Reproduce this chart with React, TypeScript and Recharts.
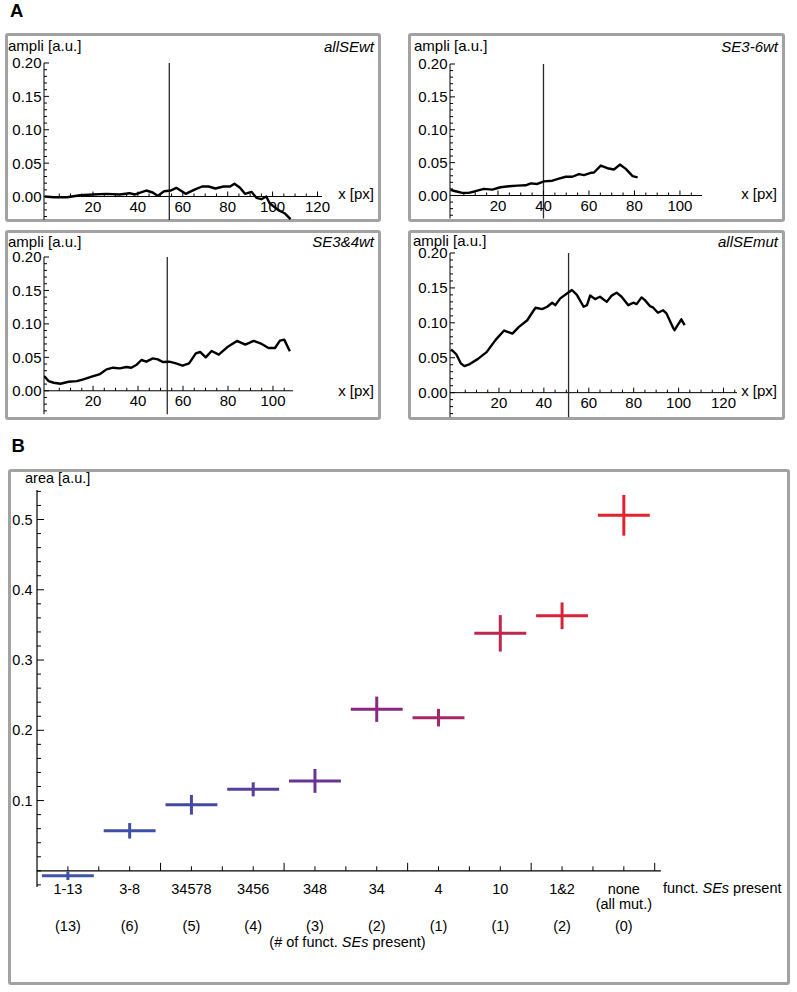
import React from "react";
import {
  ErrorBar,
  Line,
  LineChart,
  ReferenceDot,
  ReferenceLine,
  Scatter,
  ScatterChart,
  XAxis,
  YAxis,
} from "recharts";

const FONT = '"Liberation Sans", Arial, Helvetica, sans-serif';
const FRAME = "#a2a2a2";

// ---- panel A: amplitude traces (x in px, ampli in a.u.) ----
const allSEwtX = [-1.5, 2.5, 8.4, 14.3, 20, 26, 31.9, 36.3, 38.5, 43.7, 46.6, 48.8, 51.7, 54.7, 57.1, 61.3, 65, 68.6, 71.5, 74.5, 78.1, 81.1, 83, 85.5, 87.7, 90.6, 92.8, 95, 97.2, 98.7, 102.4, 105.3, 108];
const allSEwtY = [0, -0.001, -0.001, 0.002, 0.003, 0.004, 0.003, 0.005, 0.003, 0.009, 0.006, 0.001, 0.008, 0.009, 0.013, 0.004, 0.01, 0.015, 0.015, 0.012, 0.015, 0.015, 0.019, 0.013, 0.004, 0.007, -0.002, -0.004, 0, -0.01, -0.02, -0.025, -0.034];

const se36wtX = [-0.9, 1.3, 4.3, 7.2, 10.1, 13.8, 17.5, 21.1, 24.8, 28.5, 32.2, 34.4, 37.3, 40.2, 43.9, 46.8, 49.8, 52.7, 55.6, 57.8, 60.8, 62.2, 65.2, 68.1, 71, 73.6, 76.2, 79.2, 81.4];
const se36wtY = [0.0085, 0.0065, 0.004, 0.004, 0.0065, 0.01, 0.009, 0.0125, 0.014, 0.015, 0.0155, 0.0185, 0.0175, 0.0215, 0.0225, 0.0255, 0.0285, 0.0285, 0.0325, 0.031, 0.0345, 0.035, 0.0455, 0.0415, 0.0395, 0.047, 0.0405, 0.0295, 0.0275];

const se34wtX = [-1.8, 0.3, 2.5, 5.5, 9.1, 12.8, 15.7, 19.4, 23.1, 26, 28.9, 31.9, 34.8, 37, 39.2, 41.5, 43.7, 46.6, 48.8, 51, 53.9, 56.9, 59.8, 62.7, 65.7, 67.6, 70.1, 72.7, 75.9, 79.6, 84, 87.7, 91.4, 95, 98, 100.9, 103.1, 105, 107.5];
const se34wtY = [0.022, 0.0145, 0.012, 0.0105, 0.0135, 0.0145, 0.017, 0.021, 0.025, 0.032, 0.0345, 0.0335, 0.0355, 0.0345, 0.0385, 0.046, 0.0435, 0.0485, 0.047, 0.043, 0.0435, 0.041, 0.0375, 0.041, 0.056, 0.058, 0.05, 0.0595, 0.054, 0.065, 0.0745, 0.069, 0.0745, 0.07, 0.064, 0.064, 0.075, 0.0765, 0.059];

const allSEmutX = [-1.3, 1, 3, 4.6, 7, 10.5, 14.5, 18.6, 22.3, 26, 28.9, 32.6, 35.5, 36.3, 39.2, 41.5, 43.7, 45.1, 47.3, 50.3, 52.5, 54.7, 57.7, 59.2, 60.6, 62.8, 65, 68, 70.2, 72.4, 74.6, 77.6, 79.8, 81.3, 83.5, 85, 87.2, 88.6, 90.8, 93.1, 94.6, 97.5, 98.2, 101.2, 102.7];
const allSEmutY = [0.062, 0.055, 0.042, 0.038, 0.041, 0.048, 0.058, 0.076, 0.089, 0.0846, 0.0942, 0.1037, 0.118, 0.1216, 0.1196, 0.123, 0.1288, 0.1253, 0.135, 0.142, 0.147, 0.14, 0.123, 0.1253, 0.139, 0.134, 0.1374, 0.13, 0.139, 0.1432, 0.1374, 0.1253, 0.1288, 0.1268, 0.1364, 0.1325, 0.124, 0.122, 0.1144, 0.118, 0.1134, 0.0932, 0.0894, 0.105, 0.0966];

const AMPLI_MAJOR = [0, 0.05, 0.1, 0.15, 0.2];
const AMPLI_LABELS = ["0.00", "0.05", "0.10", "0.15", "0.20"];

// ---- panel B: area per set of functional SEs ----
const SE_SETS = ["1-13", "3-8", "34578", "3456", "348", "34", "4", "10", "1&2", "none"];
const SE_COUNTS = ["(13)", "(6)", "(5)", "(4)", "(3)", "(2)", "(1)", "(1)", "(2)", "(0)"];
const AREA = [-0.007, 0.057, 0.094, 0.116, 0.128, 0.23, 0.218, 0.338, 0.363, 0.506];
const AREA_ERR = [0.006, 0.011, 0.014, 0.01, 0.017, 0.018, 0.0125, 0.026, 0.019, 0.029];
const SET_COLORS = ["#3d55a6", "#3e50a3", "#4548a0", "#573f9a", "#6a3592", "#8a2682", "#a6286a", "#c0264d", "#d6253b", "#e3222d"];
const AREA_MAJOR = [0.1, 0.2, 0.3, 0.4, 0.5];
const AREA_LABELS = ["0.1", "0.2", "0.3", "0.4", "0.5"];
const SLOT_MAJOR = [2.5, 4.5, 6.5, 8.5, 10.5];
const HALF_WIDTH = 0.42;

function steps(from: number, to: number, step: number) {
  const out: number[] = [];
  for (let i = 0; from + i * step <= to + 1e-9; i++) out.push(+(from + i * step).toFixed(4));
  return out;
}
const has = (list: number[], v: number) => list.some((m) => Math.abs(m - v) < 1e-6);

function Txt({ x, y, size, anchor = "start", italic = false, bold = false, children }: any) {
  const tx = anchor === "end" ? "-100%" : anchor === "middle" ? "-50%" : "0";
  return (
    <div
      style={{
        position: "absolute",
        left: x,
        top: y - size / 2,
        fontSize: size,
        lineHeight: `${size}px`,
        transform: `translateX(${tx})`,
        whiteSpace: "nowrap",
        fontFamily: FONT,
        fontStyle: italic ? "italic" : "normal",
        fontWeight: bold ? "bold" : "normal",
        color: "#000",
      }}
    >
      {children}
    </div>
  );
}

function Frame({ left, top, width, height }: any) {
  return (
    <div
      style={{
        position: "absolute",
        left,
        top,
        width,
        height,
        boxSizing: "border-box",
        border: `3px solid ${FRAME}`,
        borderRadius: 3,
      }}
    />
  );
}

/** inward y ticks, labels only on majors */
function yTick(majors: number[], labels: string[], fs: number, majorLen: number, minorLen: number, gap: number) {
  return (p: any) => {
    const v = p.payload.value;
    const idx = majors.findIndex((m) => Math.abs(m - v) < 1e-6);
    return (
      <g>
        <line x1={p.x} x2={p.x + (idx >= 0 ? majorLen : minorLen)} y1={p.y} y2={p.y} stroke="#000" strokeWidth={1} />
        {idx >= 0 ? (
          <text x={p.x - gap} y={p.y + fs * 0.358} textAnchor="end" fontSize={fs} fontFamily={FONT} fill="#000">
            {labels[idx]}
          </text>
        ) : null}
      </g>
    );
  };
}

/** inward x tick drawn at (value, 0) */
function xTick(len: number, label: string | null, fs: number, dy: number) {
  return (p: any) => (
    <g>
      <line x1={p.cx} x2={p.cx} y1={p.cy} y2={p.cy - len} stroke="#000" strokeWidth={1} />
      {label ? (
        <text x={p.cx} y={p.cy + dy} textAnchor="middle" fontSize={fs} fontFamily={FONT} fill="#000">
          {label}
        </text>
      ) : null}
    </g>
  );
}

const TRACES = [
  { key: "tl", title: "allSEwt", xs: allSEwtX, ys: allSEwtY, cut: 54, xDomain: [-1.8, 122], xMax: 120, plot: { left: 44, right: 322, top: 63, bottom: 219.9 } },
  { key: "tr", title: "SE3-6wt", xs: se36wtX, ys: se36wtY, cut: 40, xDomain: [-1.1, 109.7], xMax: 100, plot: { left: 450, right: 702, top: 64, bottom: 218.5 } },
  { key: "bl", title: "SE3&4wt", xs: se34wtX, ys: se34wtY, cut: 53, xDomain: [-1.8, 108.9], xMax: 100, plot: { left: 44, right: 293, top: 256.7, bottom: 413.9 } },
  { key: "br", title: "allSEmut", xs: allSEmutX, ys: allSEmutY, cut: 51, xDomain: [-1.8, 126], xMax: 120, plot: { left: 450, right: 737, top: 253.3, bottom: 417.4 } },
];

function Trace({ cfg }: any) {
  const data = cfg.xs.map((x: number, i: number) => ({ x, y: cfg.ys[i] }));
  const YW = 44;
  const MT = 8;
  const MR = 20;
  const MB = 6;
  const { left, right, top, bottom } = cfg.plot;
  const majors = steps(20, cfg.xMax, 20);
  const minors = steps(5, cfg.xDomain[1], 5).filter((v) => !has(majors, v));
  const yTicks = steps(-0.03, 0.2, 0.01);
  return (
    <div style={{ position: "absolute", left: left - YW, top: top - MT }}>
      <LineChart
        width={right - left + YW + MR}
        height={bottom - top + MT + MB}
        data={data}
        margin={{ top: MT, right: MR, bottom: MB, left: 0 }}
      >
        <XAxis type="number" dataKey="x" domain={cfg.xDomain} allowDataOverflow hide />
        <YAxis
          type="number"
          domain={[-0.035, 0.2]}
          allowDataOverflow
          width={YW}
          ticks={yTicks}
          interval={0}
          tickSize={0}
          tickMargin={0}
          tickLine={false}
          axisLine={{ stroke: "#000", strokeWidth: 1 }}
          tick={yTick(AMPLI_MAJOR, AMPLI_LABELS, 15, 5, 3, 2.5)}
        />
        <ReferenceLine y={0} stroke="#000" strokeWidth={1} />
        <ReferenceLine x={cfg.cut} stroke="#2a2a2a" strokeWidth={1.3} />
        {minors.map((t: number) => (
          <ReferenceDot key={`m${t}`} x={t} y={0} ifOverflow="visible" shape={xTick(3, null, 15, 0)} />
        ))}
        {majors.map((t: number) => (
          <ReferenceDot key={`M${t}`} x={t} y={0} ifOverflow="visible" shape={xTick(5, String(t), 15, 15.5)} />
        ))}
        <Line
          type="linear"
          dataKey="y"
          stroke="#000"
          strokeWidth={2.4}
          strokeLinejoin="round"
          dot={false}
          isAnimationActive={false}
        />
      </LineChart>
    </div>
  );
}

function AreaPanel() {
  const plot = { left: 37.1, right: 661, top: 490, bottom: 887 };
  const YW = 37;
  const MT = 10;
  const MR = 6;
  const MB = 70;
  const yTicks = steps(-0.02, 0.54, 0.02);
  const slots = steps(1, 10.5, 0.5);
  return (
    <div style={{ position: "absolute", left: plot.left - YW, top: plot.top - MT }}>
      <ScatterChart
        width={plot.right - plot.left + YW + MR}
        height={plot.bottom - plot.top + MT + MB}
        margin={{ top: MT, right: MR, bottom: MB, left: 0 }}
      >
        <XAxis type="number" dataKey="x" domain={[0.5, 10.6]} allowDataOverflow hide />
        <YAxis
          type="number"
          dataKey="y"
          domain={[-0.023, 0.542]}
          allowDataOverflow
          width={YW}
          ticks={yTicks}
          interval={0}
          tickSize={0}
          tickMargin={0}
          tickLine={false}
          axisLine={{ stroke: "#000", strokeWidth: 1.2 }}
          tick={yTick(AREA_MAJOR, AREA_LABELS, 14.5, 7, 4, 4.5)}
        />
        <ReferenceLine y={0} stroke="#000" strokeWidth={1.2} />
        {slots.map((t) => (
          <ReferenceDot
            key={`s${t}`}
            x={t}
            y={0}
            ifOverflow="visible"
            shape={xTick(has(SLOT_MAJOR, t) ? 8 : 4.5, null, 14.5, 0)}
          />
        ))}
        {SE_SETS.map((name, i) => (
          <ReferenceDot
            key={`c${name}`}
            x={i + 1}
            y={0}
            ifOverflow="visible"
            shape={(p: any) => (
              <g fontFamily={FONT} fontSize={14.5} fill="#000" textAnchor="middle">
                <text x={p.cx} y={p.cy + 23.5}>{name}</text>
                {name === "none" ? <text x={p.cx} y={p.cy + 38}>(all mut.)</text> : null}
                <text x={p.cx} y={p.cy + 60}>{SE_COUNTS[i]}</text>
              </g>
            )}
          />
        ))}
        {AREA.map((v, i) => (
          <Scatter
            key={SE_SETS[i]}
            data={[{ x: i + 1, y: v, ex: HALF_WIDTH, ey: AREA_ERR[i] }]}
            dataKey="y"
            shape={() => <g />}
            isAnimationActive={false}
          >
            <ErrorBar dataKey="ey" direction="y" width={0} stroke={SET_COLORS[i]} strokeWidth={3} isAnimationActive={false} />
            <ErrorBar dataKey="ex" direction="x" width={0} stroke={SET_COLORS[i]} strokeWidth={3} isAnimationActive={false} />
          </Scatter>
        ))}
      </ScatterChart>
    </div>
  );
}

export default function App() {
  return (
    <div style={{ position: "absolute", left: 0, top: 0, width: 797, height: 992, background: "#fff", overflow: "hidden" }}>
      <Txt x={10} y={11.7} size={18.5} bold>A</Txt>
      <Txt x={11.5} y={446.7} size={18.5} bold>B</Txt>

      <Frame left={5} top={33} width={376} height={189} />
      <Frame left={408} top={33} width={377} height={189} />
      <Frame left={5} top={230} width={376} height={190} />
      <Frame left={408} top={230} width={377} height={190} />
      <Frame left={8} top={469} width={782} height={516} />

      {TRACES.map((cfg) => (
        <Trace key={cfg.key} cfg={cfg} />
      ))}

      <Txt x={8} y={45.5} size={15}>ampli [a.u.]</Txt>
      <Txt x={374} y={46} size={15} anchor="end" italic>allSEwt</Txt>
      <Txt x={374} y={193} size={15} anchor="end">x [px]</Txt>

      <Txt x={414} y={45.5} size={15}>ampli [a.u.]</Txt>
      <Txt x={778} y={46} size={15} anchor="end" italic>SE3-6wt</Txt>
      <Txt x={777} y={193} size={15} anchor="end">x [px]</Txt>

      <Txt x={8} y={241} size={15}>ampli [a.u.]</Txt>
      <Txt x={374} y={241.5} size={15} anchor="end" italic>SE3&amp;4wt</Txt>
      <Txt x={374} y={390} size={15} anchor="end">x [px]</Txt>

      <Txt x={413} y={240} size={15}>ampli [a.u.]</Txt>
      <Txt x={778} y={241} size={15} anchor="end" italic>allSEmut</Txt>
      <Txt x={777} y={390} size={15} anchor="end">x [px]</Txt>

      <AreaPanel />

      <Txt x={25} y={478} size={14.5}>area [a.u.]</Txt>
      <Txt x={663} y={888.5} size={14.5}>
        funct. <i>SEs</i> present
      </Txt>
      <Txt x={347.5} y={942} size={14.5} anchor="middle">
        (# of funct. <i>SEs</i> present)
      </Txt>
    </div>
  );
}
